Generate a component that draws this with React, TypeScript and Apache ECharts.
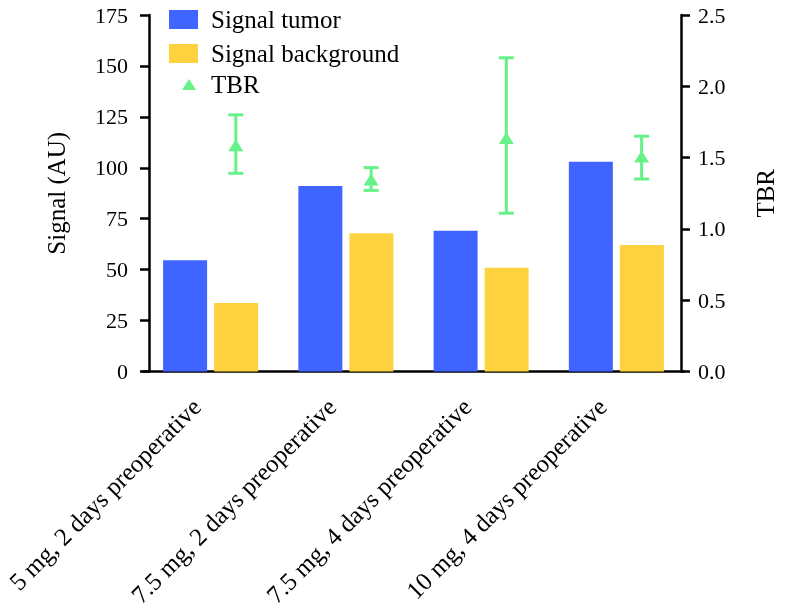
import React, { useEffect, useRef } from "react";
import * as echarts from "echarts";

const categories = [
  "5 mg, 2 days preoperative",
  "7.5 mg, 2 days preoperative",
  "7.5 mg, 4 days preoperative",
  "10 mg, 4 days preoperative",
];
const signalTumor = [54.6, 91.1, 69.1, 103.0];
const signalBackground = [33.7, 67.9, 51.0, 62.1];
const tbrMean = [1.58, 1.34, 1.63, 1.5];
const tbrLow = [1.39, 1.27, 1.11, 1.35];
const tbrHigh = [1.8, 1.43, 2.2, 1.65];
const leftTicks = { min: 0, max: 175, interval: 25 };
const rightTicks = { min: 0, max: 2.5, interval: 0.5 };

const BLUE = "#3F64FF";
const YELLOW = "#FED23F";
const GREEN = "#66F288";
const FONT = '"Liberation Serif", "Times New Roman", serif';

export default function App() {
  const ref = useRef<HTMLDivElement>(null);
  useEffect(() => {
    if (!ref.current) return;
    const chart = echarts.init(ref.current, null, { renderer: "svg" });
    const tbrData = tbrMean.map((m, i) => [i, m, tbrLow[i], tbrHigh[i]]);
    chart.setOption({
      animation: false,
      textStyle: { fontFamily: FONT, color: "#000" },
      grid: { left: 143, right: 97, top: 15, bottom: 236 },
      legend: [
        {
          orient: "vertical",
          left: 164,
          top: 2,
          itemWidth: 29,
          itemHeight: 19,
          itemGap: 9,
          icon: "rect",
          data: ["Signal tumor", "Signal background"],
          textStyle: { fontSize: 25, fontFamily: FONT, color: "#000", lineHeight: 24, padding: [0, 0, 0, 8] },
        },
        {
          orient: "vertical",
          left: 177,
          top: 67,
          itemWidth: 14,
          itemHeight: 11,
          data: [{ name: "TBR", icon: "triangle" }],
          textStyle: { fontSize: 25, fontFamily: FONT, color: "#000", lineHeight: 24, padding: [0, 0, 0, 10] },
        },
      ],
      xAxis: {
        type: "category",
        data: categories,
        axisLine: { lineStyle: { color: "#000", width: 2.5 } },
        axisTick: { alignWithLabel: true, length: 8, lineStyle: { color: "#000", width: 2.5 } },
        axisLabel: {
          rotate: 45,
          fontSize: 25,
          fontFamily: FONT,
          color: "#000",
          margin: 17,
          padding: [0, 20, 0, 0],
        },
      },
      yAxis: [
        {
          type: "value",
          min: leftTicks.min,
          max: leftTicks.max,
          interval: leftTicks.interval,
          offset: -6,
          name: "Signal (AU)",
          nameLocation: "middle",
          nameGap: 80,
          nameTextStyle: { fontSize: 25, fontFamily: FONT, color: "#000" },
          axisLine: { show: true, lineStyle: { color: "#000", width: 2.5 } },
          axisTick: { show: true, length: 9, lineStyle: { color: "#000", width: 2.5 } },
          axisLabel: { fontSize: 22, fontFamily: FONT, color: "#000", margin: 21 },
          splitLine: { show: false },
        },
        {
          type: "value",
          min: rightTicks.min,
          max: rightTicks.max,
          interval: rightTicks.interval,
          position: "right",
          offset: -3,
          name: "TBR",
          nameLocation: "middle",
          nameGap: 72,
          nameTextStyle: { fontSize: 25, fontFamily: FONT, color: "#000" },
          axisLine: { show: true, lineStyle: { color: "#000", width: 2.5 } },
          axisTick: { show: true, length: 9, lineStyle: { color: "#000", width: 2.5 } },
          axisLabel: {
            fontSize: 22,
            fontFamily: FONT,
            color: "#000",
            margin: 17,
            formatter: (v: number) => v.toFixed(1),
          },
          splitLine: { show: false },
        },
      ],
      series: [
        {
          name: "Signal tumor",
          type: "bar",
          data: signalTumor,
          barWidth: 44,
          barGap: "16%",
          itemStyle: { color: BLUE },
        },
        {
          name: "Signal background",
          type: "bar",
          data: signalBackground,
          barWidth: 44,
          barGap: "16%",
          itemStyle: { color: YELLOW },
        },
        {
          name: "TBR",
          type: "custom",
          yAxisIndex: 1,
          data: tbrData,
          encode: { x: 0, y: [1, 2, 3] },
          itemStyle: { color: GREEN },
          renderItem: (params: any, api: any) => {
            const ci = api.value(0);
            const mean = api.value(1);
            const lo = api.value(2);
            const hi = api.value(3);
            const band = api.size([1, 0])[0];
            const off = (band * 25.5) / 136.7;
            const pm = api.coord([ci, mean]);
            const x = pm[0] + off;
            const ym = pm[1];
            const yLo = api.coord([ci, lo])[1];
            const yHi = api.coord([ci, hi])[1];
            const cap = 7.5;
            const ls = { stroke: GREEN, lineWidth: 3 };
            return {
              type: "group",
              children: [
                { type: "line", shape: { x1: x, y1: yHi, x2: x, y2: yLo }, style: ls },
                { type: "line", shape: { x1: x - cap, y1: yHi, x2: x + cap, y2: yHi }, style: ls },
                { type: "line", shape: { x1: x - cap, y1: yLo, x2: x + cap, y2: yLo }, style: ls },
                {
                  type: "polygon",
                  shape: { points: [[x, ym - 7], [x + 7.5, ym + 5], [x - 7.5, ym + 5]] },
                  style: { fill: GREEN },
                },
              ],
            };
          },
        },
      ],
    });
    return () => chart.dispose();
  }, []);
  return (
    <div
      ref={ref}
      style={{ position: "fixed", left: 0, top: 0, width: 786, height: 610 }}
    />
  );
}
